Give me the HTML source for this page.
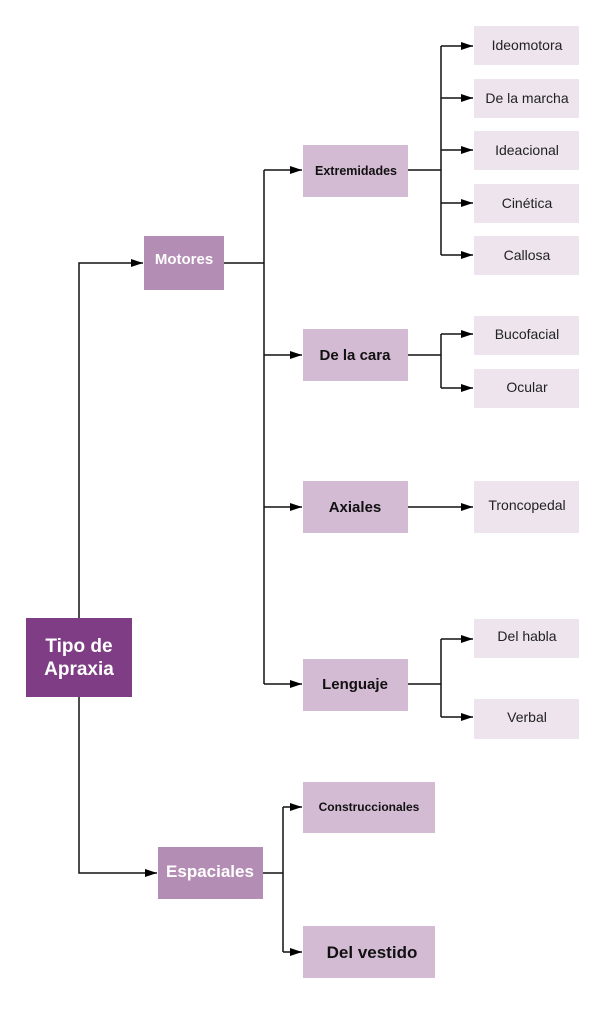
<!DOCTYPE html>
<html><head><meta charset="utf-8"><style>
html,body{margin:0;padding:0;background:#fff;}
svg{display:block;}
text{font-family:"Liberation Sans",sans-serif;}
</style></head><body>
<svg width="606" height="1024" viewBox="0 0 606 1024" xmlns="http://www.w3.org/2000/svg">
<defs><marker id="a" markerWidth="12" markerHeight="8" refX="12" refY="4" orient="auto" markerUnits="userSpaceOnUse"><path d="M0,0 L12,4 L0,8 z" fill="#000"/></marker></defs>
<g stroke="#111" stroke-width="1.5" fill="none">
<path d="M79,618 V263 H143" marker-end="url(#a)"/>
<path d="M79,697 V873 H157" marker-end="url(#a)"/>
<path d="M224,263 H264"/>
<path d="M264,170 V684"/>
<path d="M264,170 H302" marker-end="url(#a)"/>
<path d="M264,355 H302" marker-end="url(#a)"/>
<path d="M264,507 H302" marker-end="url(#a)"/>
<path d="M264,684 H302" marker-end="url(#a)"/>
<path d="M408,170 H441 M441,46 V255"/>
<path d="M441,46 H473" marker-end="url(#a)"/>
<path d="M441,98 H473" marker-end="url(#a)"/>
<path d="M441,150 H473" marker-end="url(#a)"/>
<path d="M441,203 H473" marker-end="url(#a)"/>
<path d="M441,255 H473" marker-end="url(#a)"/>
<path d="M408,355 H441 M441,334 V388"/>
<path d="M441,334 H473" marker-end="url(#a)"/>
<path d="M441,388 H473" marker-end="url(#a)"/>
<path d="M408,507 H473" marker-end="url(#a)"/>
<path d="M408,684 H441 M441,639 V717"/>
<path d="M441,639 H473" marker-end="url(#a)"/>
<path d="M441,717 H473" marker-end="url(#a)"/>
<path d="M263,873 H283 M283,807 V952"/>
<path d="M283,807 H302" marker-end="url(#a)"/>
<path d="M283,952 H302" marker-end="url(#a)"/>
</g>
<rect x="26" y="618" width="106" height="79" fill="#7e3d84"/>
<text x="79" y="652" fill="#fff" font-size="19" font-weight="bold" text-anchor="middle">Tipo de</text>
<text x="79" y="675" fill="#fff" font-size="19" font-weight="bold" text-anchor="middle">Apraxia</text>
<rect x="144" y="236" width="80" height="54" fill="#b38db4"/>
<text x="184" y="264" fill="#fff" font-size="15" font-weight="bold" text-anchor="middle">Motores</text>
<rect x="158" y="847" width="105" height="52" fill="#b38db4"/>
<text x="210" y="877" fill="#fff" font-size="17" font-weight="bold" text-anchor="middle">Espaciales</text>
<g fill="#d4bbd4">
<rect x="303" y="145" width="105" height="52"/>
<rect x="303" y="329" width="105" height="52"/>
<rect x="303" y="481" width="105" height="52"/>
<rect x="303" y="659" width="105" height="52"/>
<rect x="303" y="782" width="132" height="51"/>
<rect x="303" y="926" width="132" height="52"/>
</g>
<g fill="#111" font-weight="bold" text-anchor="middle">
<text x="356" y="175" font-size="12.5">Extremidades</text>
<text x="355" y="360" font-size="15">De la cara</text>
<text x="355" y="512" font-size="15">Axiales</text>
<text x="355" y="689" font-size="15">Lenguaje</text>
<text x="369" y="811" font-size="12">Construccionales</text>
<text x="372" y="958" font-size="17">Del vestido</text>
</g>
<g fill="#ede4ee">
<rect x="474" y="26" width="105" height="39"/>
<rect x="474" y="79" width="105" height="39"/>
<rect x="474" y="131" width="105" height="39"/>
<rect x="474" y="184" width="105" height="39"/>
<rect x="474" y="236" width="105" height="39"/>
<rect x="474" y="316" width="105" height="39"/>
<rect x="474" y="369" width="105" height="39"/>
<rect x="474" y="481" width="105" height="52"/>
<rect x="474" y="619" width="105" height="39"/>
<rect x="474" y="699" width="105" height="40"/>
</g>
<g fill="#222" font-size="14" text-anchor="middle">
<text x="527" y="50">Ideomotora</text>
<text x="527" y="103">De la marcha</text>
<text x="527" y="155">Ideacional</text>
<text x="527" y="208">Cinética</text>
<text x="527" y="260">Callosa</text>
<text x="527" y="339">Bucofacial</text>
<text x="527" y="392">Ocular</text>
<text x="527" y="510">Troncopedal</text>
<text x="527" y="641">Del habla</text>
<text x="527" y="722">Verbal</text>
</g>
</svg>
</body></html>
